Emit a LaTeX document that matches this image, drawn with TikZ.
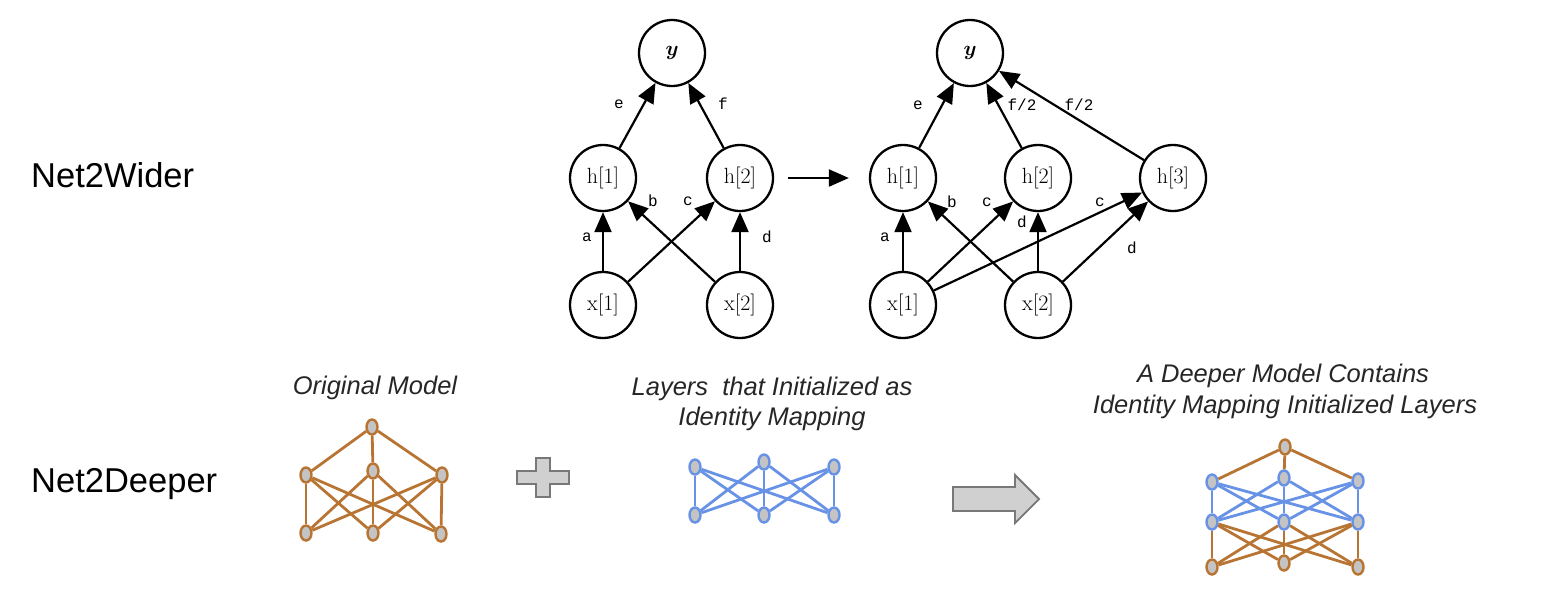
\documentclass[tikz,border=0pt]{standalone}
\usepackage{amsmath}
\usepackage{fontspec}
\newfontfamily\hel{Liberation Sans}
\newfontfamily\mono{Liberation Mono}
\usetikzlibrary{arrows.meta,shapes.geometric}
\definecolor{brn}{RGB}{184,116,50}
\definecolor{blu}{RGB}{104,146,230}
\definecolor{ngray}{RGB}{196,196,196}
\definecolor{pgray}{RGB}{208,208,208}
\definecolor{pdark}{RGB}{120,120,120}
\definecolor{captc}{RGB}{38,38,38}
\tikzset{
  neuron/.style={circle, draw, line width=2.3pt, minimum size=66pt, inner sep=0pt, font=\fontsize{22}{22}\selectfont},
  edge/.style={line width=2.2pt, -{Triangle[length=20pt,width=17pt]}},
  elab/.style={font=\mono\fontsize{16}{16}\selectfont, inner sep=0pt},
  bnode/.style={ellipse, draw=brn, fill=ngray, line width=2.4pt, minimum width=11pt, minimum height=15pt, inner sep=0pt},
  lnode/.style={ellipse, draw=blu, fill=ngray, line width=2.4pt, minimum width=11pt, minimum height=15pt, inner sep=0pt},
  bline/.style={draw=brn, line width=2.8pt},
  lline/.style={draw=blu, line width=2.8pt},
  rowlab/.style={font=\hel\fontsize{34.5}{34.5}\selectfont, anchor=base west, inner sep=0pt},
  capt/.style={font=\hel\itshape\fontsize{25.5}{25.5}\selectfont, text=captc, anchor=base, inner sep=0pt},
  bigshape/.style={fill=pgray, draw=pdark, line width=1.8pt, line join=miter}
}
\begin{document}
\begin{tikzpicture}[x=1pt,y=-1pt]
\useasboundingbox (0,0) rectangle (1541,614);

% row labels
\node[rowlab] (wlab) at (31,187) {Net2Wider};
\node[rowlab] (dlab) at (31,492) {Net2Deeper};

% ---------- Net2Wider: left graph ----------
\node[neuron] (ly)  at (672,53)  {$\boldsymbol{y}$};
\node[neuron] (lh1) at (603,178) {h[1]};
\node[neuron] (lh2) at (740,178) {h[2]};
\node[neuron] (lx1) at (603,305) {x[1]};
\node[neuron] (lx2) at (740,305) {x[2]};
\draw[edge] (lh1) -- (ly);
\draw[edge] (lh2) -- (ly);
\draw[edge] (lx1) -- (lh1);
\draw[edge] (lx2) -- (lh1);
\draw[edge] (lx1) -- (lh2);
\draw[edge] (lx2) -- (lh2);
\node[elab] (le) at (619,104) {e};
\node[elab] (lf) at (723,104) {f};
\node[elab] (la) at (587,237) {a};
\node[elab] (lb) at (653,201) {b};
\node[elab] (lc) at (688,201) {c};
\node[elab] (ld) at (767,237) {d};

% ---------- Net2Wider: right graph ----------
\node[neuron] (ry)  at (970,53)   {$\boldsymbol{y}$};
\node[neuron] (rh1) at (903,178)  {h[1]};
\node[neuron] (rh2) at (1038,178) {h[2]};
\node[neuron] (rh3) at (1173,178) {h[3]};
\node[neuron] (rx1) at (903,305)  {x[1]};
\node[neuron] (rx2) at (1038,305) {x[2]};
\draw[edge, shorten <=14pt, shorten >=20pt] (lh2) -- (rh1);
\draw[edge] (rh1) -- (ry);
\draw[edge] (rh2) -- (ry);
\draw[edge] (rh3) -- (ry);
\draw[edge] (rx1) -- (rh1);
\draw[edge] (rx2) -- (rh1);
\draw[edge] (rx1) -- (rh2);
\draw[edge] (rx2) -- (rh2);
\draw[edge] (rx1) -- (rh3);
\draw[edge] (rx2) -- (rh3);
\node[elab] (re)  at (918,105)  {e};
\node[elab] (rf2) at (1022,105) {f/2};
\node[elab] (rf3) at (1079,105) {f/2};
\node[elab] (ra)  at (885,237)  {a};
\node[elab] (rb)  at (952,202)  {b};
\node[elab] (rc)  at (987,202)  {c};
\node[elab] (rd)  at (1022,222) {d};
\node[elab] (rc3) at (1100,202) {c};
\node[elab] (rd3) at (1132,248) {d};

% ---------- Net2Deeper ----------
\node[capt] (c1) at (375,394) {Original Model};
\node[capt] (c2a) at (772,395) {Layers\ \ that Initialized as};
\node[capt] (c2b) at (772,425) {Identity Mapping};
\node[capt] (c3a) at (1283,382) {A Deeper Model Contains};
\node[capt] (c3b) at (1285,413) {Identity Mapping Initialized Layers};

% original model
\node[bnode] (o0) at (372,427) {};
\node[bnode] (o1) at (306,475) {};
\node[bnode] (o2) at (373,471) {};
\node[bnode] (o3) at (442,475) {};
\node[bnode] (o4) at (306,533) {};
\node[bnode] (o5) at (373,533) {};
\node[bnode] (o6) at (441,534) {};
\foreach \a in {o1,o2,o3} \path[bline] (o0) -- (\a);
\foreach \a in {o1,o2,o3} \foreach \b in {o4,o5,o6} \path[bline] (\a) -- (\b);

% plus sign
\draw[bigshape] (517,471) -- (536,471) -- (536,458) -- (550,458) -- (550,471) -- (569,471) -- (569,484) -- (550,484) -- (550,497) -- (536,497) -- (536,484) -- (517,484) -- cycle;

% identity layers
\node[lnode] (i1) at (695,467) {};
\node[lnode] (i2) at (764,462) {};
\node[lnode] (i3) at (834,467) {};
\node[lnode] (i4) at (695,515) {};
\node[lnode] (i5) at (764,515) {};
\node[lnode] (i6) at (834,515) {};
\foreach \a in {i1,i2,i3} \foreach \b in {i4,i5,i6} \path[lline] (\a) -- (\b);

% big arrow
\draw[bigshape] (953,487) -- (1015,487) -- (1015,475) -- (1039,499) -- (1015,523) -- (1015,511) -- (953,511) -- cycle;

% deeper model
\node[bnode] (d0) at (1285,447) {};
\node[lnode] (d1) at (1212,482) {};
\node[lnode] (d2) at (1284,478) {};
\node[lnode] (d3) at (1358,481) {};
\node[lnode] (d4) at (1212,522) {};
\node[lnode] (d5) at (1284,522) {};
\node[lnode] (d6) at (1358,522) {};
\node[bnode] (d7) at (1212,567) {};
\node[bnode] (d8) at (1284,563) {};
\node[bnode] (d9) at (1358,567) {};
\foreach \a in {d1,d2,d3} \path[bline] (d0) -- (\a);
\foreach \a in {d1,d2,d3} \foreach \b in {d4,d5,d6} \path[lline] (\a) -- (\b);
\foreach \a in {d4,d5,d6} \foreach \b in {d7,d8,d9} \path[bline] (\a) -- (\b);
\end{tikzpicture}
\end{document}
